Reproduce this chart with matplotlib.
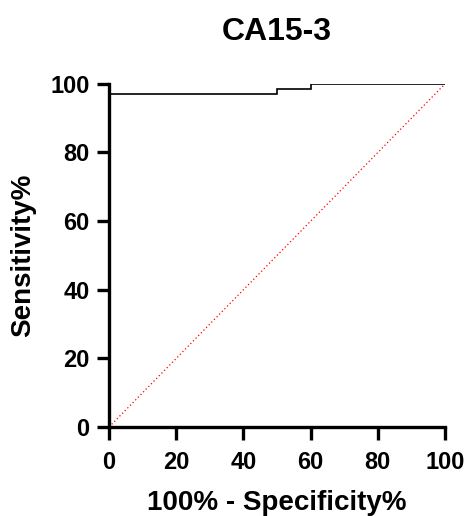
import matplotlib
matplotlib.use("Agg")
import matplotlib.pyplot as plt

plt.rcParams['font.family'] = ['Liberation Sans', 'DejaVu Sans']
plt.rcParams['font.weight'] = 'bold'

# ROC curve points (100% - specificity, sensitivity)
fpr = [0, 0, 50, 50, 60, 60, 100]
tpr = [0, 97.1, 97.1, 98.6, 98.6, 100, 100]
ticks = [0, 20, 40, 60, 80, 100]

fig = plt.figure(figsize=(4.68, 5.16), dpi=100)
ax = fig.add_axes([0.233, 0.1725, 0.718, 0.665])

ax.plot(fpr, tpr, color="k", linewidth=1.2, solid_joinstyle="miter")
ax.plot([0, 100], [0, 100], color="red", linestyle=(0, (1, 2)), linewidth=0.9)

ax.set_xlim(0, 100)
ax.set_ylim(0, 100)
ax.set_xticks(ticks)
ax.set_yticks(ticks)
for s in ["top", "right"]:
    ax.spines[s].set_visible(False)
for s in ["left", "bottom"]:
    ax.spines[s].set_linewidth(2.4)
ax.tick_params(width=2.4, length=9, labelsize=17, pad=5)
ax.tick_params(axis="x", pad=8)
for lab in ax.get_xticklabels() + ax.get_yticklabels():
    lab.set_fontweight("bold")

ax.set_xlabel("100% - Specificity%", fontsize=20, fontweight="bold", va="baseline")
ax.xaxis.set_label_coords(0.5, -0.243)
ax.set_ylabel("Sensitivity%", fontsize=20, fontweight="bold")
ax.yaxis.set_label_coords(-0.218, 0.5)
fig.text(0.592, 1 - 40 / 516, "CA15-3", fontsize=23, fontweight="bold",
         ha="center", va="baseline")

fig.savefig("out.png", dpi=100)
